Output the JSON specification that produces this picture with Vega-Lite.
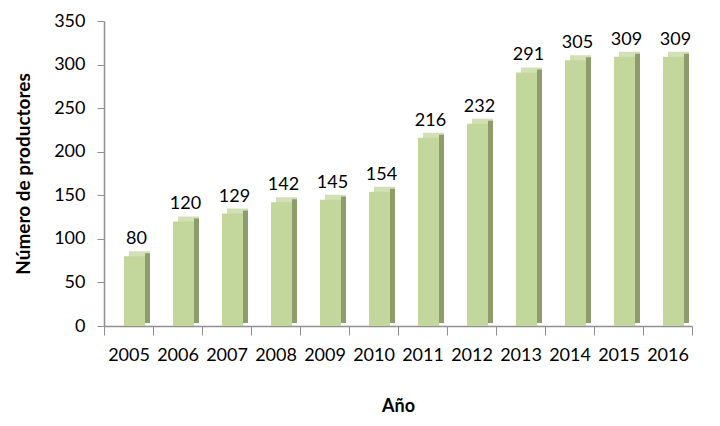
{
  "$schema": "https://vega.github.io/schema/vega-lite/v6.json",
  "autosize": {"type": "none"},
  "width": 588,
  "height": 305,
  "padding": {"left": 104, "top": 21, "right": 28, "bottom": 100},
  "background": "white",
  "config": {"view": {"stroke": null}, "font": "Lato"},
  "data": {"values": [
    {"anio": "2005", "n": 80},
    {"anio": "2006", "n": 120},
    {"anio": "2007", "n": 129},
    {"anio": "2008", "n": 142},
    {"anio": "2009", "n": 145},
    {"anio": "2010", "n": 154},
    {"anio": "2011", "n": 216},
    {"anio": "2012", "n": 232},
    {"anio": "2013", "n": 291},
    {"anio": "2014", "n": 305},
    {"anio": "2015", "n": 309},
    {"anio": "2016", "n": 309}
  ]},
  "encoding": {
    "x": {"field": "anio", "type": "nominal", "sort": null,
      "scale": {"paddingInner": 0, "paddingOuter": 0},
      "axis": {"title": "Año", "titleFont": "Lato", "titleFontSize": 18, "titleFontWeight": "bold", "titlePadding": 33,
        "labelAngle": 0, "labelFontSize": 18, "labelColor": "black", "labelPadding": 11, "labelFont": "Lato",
        "tickBand": "extent", "tickSize": 9, "tickColor": "#909090", "domainColor": "#909090", "domainWidth": 1.5}},
    "y": {"field": "n", "type": "quantitative",
      "scale": {"domain": [0, 350]},
      "axis": {"title": "Número de productores", "titleFont": "Lato", "titleFontSize": 19, "titleFontWeight": "bold", "titlePadding": 20,
        "values": [0, 50, 100, 150, 200, 250, 300, 350], "grid": false,
        "labelFontSize": 18, "labelColor": "black", "labelPadding": 12, "labelFont": "Lato",
        "tickSize": 7, "tickColor": "#909090", "domainColor": "#909090", "domainWidth": 1.5}}
  },
  "layer": [
    {"mark": {"type": "bar", "size": 21, "xOffset": 11, "yOffset": -5, "color": "#d3e0b6"}},
    {"mark": {"type": "bar", "size": 5, "xOffset": 19, "yOffset": -3, "color": "#8e9b6b"}},
    {"mark": {"type": "bar", "size": 21, "xOffset": 6, "color": "#c3d69b"}},
    {"mark": {"type": "text", "xOffset": 8, "dy": -17, "fontSize": 18, "font": "Lato", "color": "black"},
      "encoding": {"text": {"field": "n", "type": "quantitative"}}}
  ]
}
